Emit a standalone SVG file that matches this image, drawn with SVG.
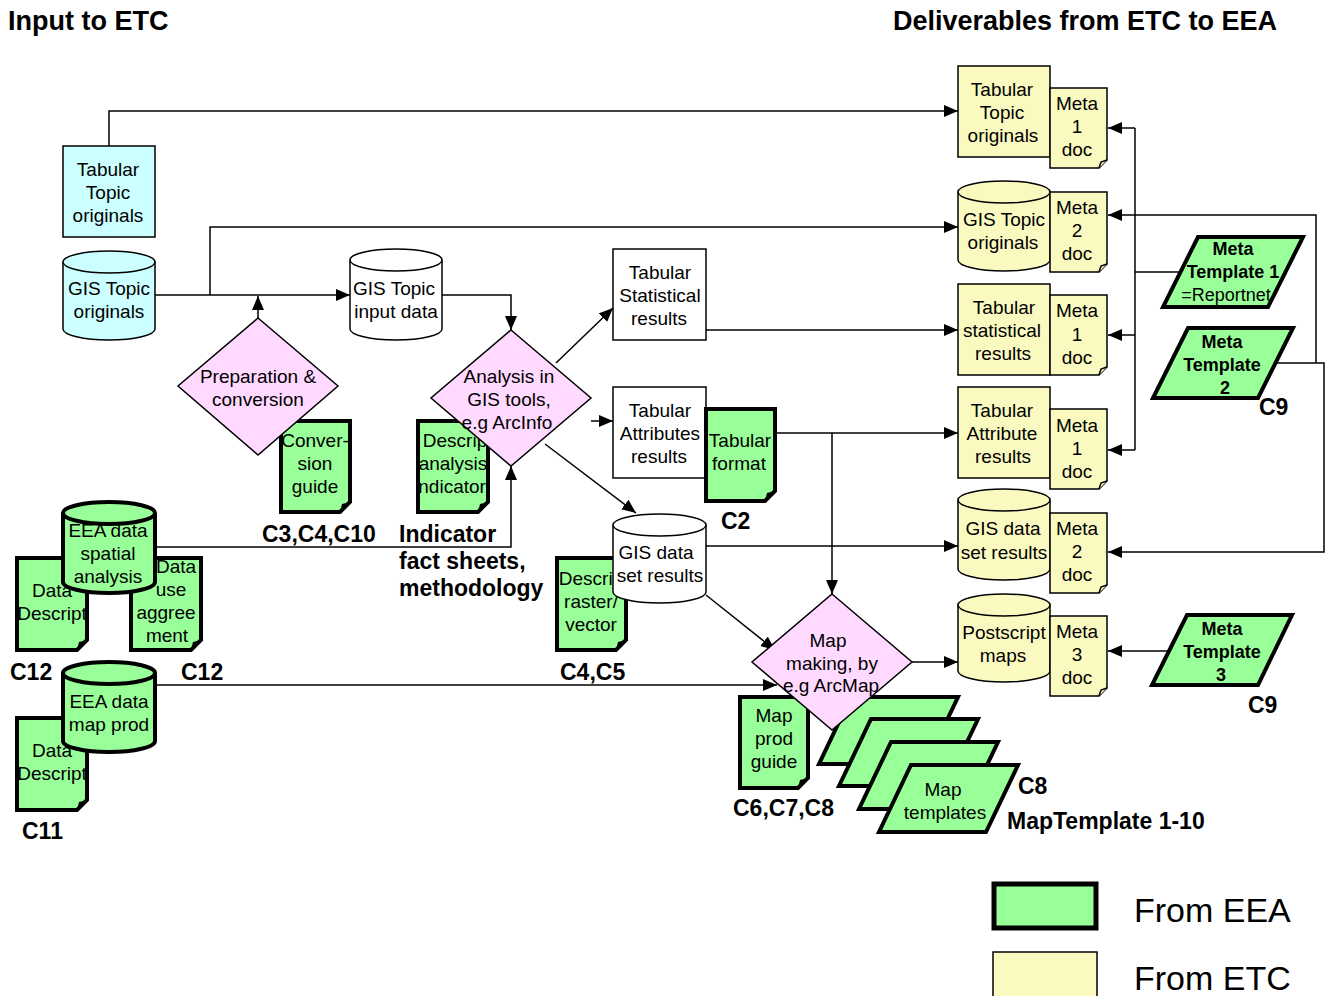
<svg xmlns="http://www.w3.org/2000/svg" width="1329" height="996" viewBox="0 0 1329 996">
<style>
  text { font-family: "Liberation Sans", Arial, sans-serif; font-size: 19px; fill: #000; }
  .c { text-anchor: middle; }
  .b { font-weight: bold; font-size: 23px; }
  .title { font-weight: bold; font-size: 27px; }
  .leg { font-size: 34px; }
  .thin { stroke: #000; stroke-width: 1.5; }
  .thick { stroke: #000; stroke-width: 4; stroke-linejoin: miter; }
  .cyan { fill: #ccffff; }
  .white { fill: #ffffff; }
  .pink { fill: #ffd9ff; }
  .green { fill: #99ff99; }
  .yellow { fill: #fafac0; }
  .wire { fill: none; stroke: #000; stroke-width: 1.5; }
  .fold { fill: #000; stroke: none; }
  .mb { font-weight: bold; }
</style>
<defs>
  <marker id="arr" viewBox="0 0 14 12" refX="14" refY="6" markerWidth="14" markerHeight="12" markerUnits="userSpaceOnUse" orient="auto">
    <path d="M0,0 L14,6 L0,12 Z" fill="#000"/>
  </marker>
  <clipPath id="clipDA"><rect x="418" y="421" width="70" height="91"/></clipPath>
  <clipPath id="clipDR"><rect x="557" y="558" width="69" height="92"/></clipPath>
  <clipPath id="clipDD1"><rect x="17" y="558" width="70" height="92"/></clipPath>
  <clipPath id="clipDD2"><rect x="17" y="718" width="70" height="92"/></clipPath>
</defs>

<!-- headings -->
<text class="title" x="8" y="30">Input to ETC</text>
<text class="title" x="893" y="30">Deliverables from ETC to EEA</text>

<!-- connectors -->
<g id="connectors">
  <path class="wire" d="M109,146 V111 H958" marker-end="url(#arr)"/>
  <path class="wire" d="M155,295 H350" marker-end="url(#arr)"/>
  <path class="wire" d="M210,295 V227 H958" marker-end="url(#arr)"/>
  <path class="wire" d="M258,318 V296" marker-end="url(#arr)"/>
  <path class="wire" d="M442,295 H511 V330" marker-end="url(#arr)"/>
  <path class="wire" d="M155,547 H511 V466" marker-end="url(#arr)"/>
  <path class="wire" d="M556,363 L613,308" marker-end="url(#arr)"/>
  <path class="wire" d="M591,421 H613" marker-end="url(#arr)"/>
  <path class="wire" d="M545,444 L636,513" marker-end="url(#arr)"/>
  <path class="wire" d="M706,330 H958" marker-end="url(#arr)"/>
  <path class="wire" d="M775,433 H958" marker-end="url(#arr)"/>
  <path class="wire" d="M832,433 V594" marker-end="url(#arr)"/>
  <path class="wire" d="M706,546 H958" marker-end="url(#arr)"/>
  <path class="wire" d="M706,595 L775,650" marker-end="url(#arr)"/>
  <path class="wire" d="M155,685 H777" marker-end="url(#arr)"/>
  <path class="wire" d="M912,662 H958" marker-end="url(#arr)"/>
  <!-- metadata template feeds -->
  <path class="wire" d="M1135,128 V450"/>
  <path class="wire" d="M1135,128 H1108" marker-end="url(#arr)"/>
  <path class="wire" d="M1135,335 H1108" marker-end="url(#arr)"/>
  <path class="wire" d="M1135,450 H1108" marker-end="url(#arr)"/>
  <path class="wire" d="M1180,272 H1135"/>
  <path class="wire" d="M1316,363 V215 H1108" marker-end="url(#arr)"/>
  <path class="wire" d="M1276,363 H1324 V552 H1108" marker-end="url(#arr)"/>
  <path class="wire" d="M1170,651 H1108" marker-end="url(#arr)"/>
</g>

<!-- inputs -->
<g id="tabular-topic-in">
  <rect class="cyan thin" x="63" y="146" width="92" height="91"/>
  <text class="c" x="108" y="176">Tabular</text>
  <text class="c" x="108" y="199">Topic</text>
  <text class="c" x="108" y="222">originals</text>
</g>
<g id="gis-topic-in">
  <path class="cyan thin" d="M63,262 V329 A46,11 0 0 0 155,329 V262"/>
  <ellipse class="cyan thin" cx="109" cy="262" rx="46" ry="11"/>
  <text class="c" x="109" y="295">GIS Topic</text>
  <text class="c" x="109" y="318">originals</text>
</g>

<g id="data-descript-1">
  <path class="green thick" d="M17,558 H87 V640 L77,650 H17 Z"/>
  <path class="fold" d="M77,650 L79,642 L87,640 Z"/>
  <g clip-path="url(#clipDD1)">
    <text class="c" x="52" y="597">Data</text>
    <text class="c" x="52" y="620">Descript</text>
  </g>
</g>
<g id="data-use">
  <path class="green thick" d="M131,558 H201 V640 L191,650 H131 Z"/>
  <path class="fold" d="M191,650 L193,642 L201,640 Z"/>
  <text class="c" x="176" y="573">Data</text>
  <text class="c" x="171" y="596">use</text>
  <text class="c" x="166" y="619">aggree</text>
  <text class="c" x="167" y="642">ment</text>
</g>
<g id="eea-spatial">
  <path class="green thick" d="M63,513 V582 A46,11 0 0 0 155,582 V513"/>
  <ellipse class="green thick" cx="109" cy="513" rx="46" ry="11"/>
  <text class="c" x="108" y="537">EEA data</text>
  <text class="c" x="108" y="560">spatial</text>
  <text class="c" x="108" y="583">analysis</text>
</g>
<text class="b" x="10" y="680">C12</text>
<text class="b" x="181" y="680">C12</text>

<g id="data-descript-2">
  <path class="green thick" d="M17,718 H87 V800 L77,810 H17 Z"/>
  <path class="fold" d="M77,810 L79,802 L87,800 Z"/>
  <g clip-path="url(#clipDD2)">
    <text class="c" x="52" y="757">Data</text>
    <text class="c" x="52" y="780">Descript</text>
  </g>
</g>
<g id="eea-mapprod">
  <path class="green thick" d="M63,673 V741 A46,11 0 0 0 155,741 V673"/>
  <ellipse class="green thick" cx="109" cy="673" rx="46" ry="11"/>
  <text class="c" x="109" y="708">EEA data</text>
  <text class="c" x="109" y="731">map prod</text>
</g>
<text class="b" x="22" y="839">C11</text>

<!-- preparation -->
<g id="conversion-guide">
  <path class="green thick" d="M281,421 H350 V502 L340,512 H281 Z"/>
  <path class="fold" d="M340,512 L342,504 L350,502 Z"/>
  <text class="c" x="315" y="447">Conver-</text>
  <text class="c" x="315" y="470">sion</text>
  <text class="c" x="315" y="493">guide</text>
</g>
<g id="prep">
  <path class="pink thin" d="M258,318 L338,386 L258,455 L178,386 Z"/>
  <text class="c" x="258" y="383">Preparation &amp;</text>
  <text class="c" x="258" y="406">conversion</text>
</g>
<text class="b" x="262" y="542">C3,C4,C10</text>

<g id="gis-topic-input">
  <path class="white thin" d="M350,260 V329 A46,11 0 0 0 442,329 V260"/>
  <ellipse class="white thin" cx="396" cy="260" rx="46" ry="11"/>
  <text class="c" x="394" y="295">GIS Topic</text>
  <text class="c" x="396" y="318">input data</text>
</g>

<!-- analysis -->
<g id="descrip-analysis">
  <path class="green thick" d="M418,421 H488 V502 L478,512 H418 Z"/>
  <path class="fold" d="M478,512 L480,504 L488,502 Z"/>
  <g clip-path="url(#clipDA)">
    <text class="c" x="455" y="447">Descrip</text>
    <text class="c" x="453" y="470">analysis</text>
    <text class="c" x="450" y="493">indicator</text>
  </g>
</g>
<g id="analysis">
  <path class="pink thin" d="M511,330 L591,398 L511,466 L431,398 Z"/>
  <text class="c" x="509" y="383">Analysis in</text>
  <text class="c" x="509" y="406">GIS tools,</text>
  <text class="c" x="507" y="429">e.g ArcInfo</text>
</g>
<text class="b" x="399" y="542">Indicator</text>
<text class="b" x="399" y="569">fact sheets,</text>
<text class="b" x="399" y="596">methodology</text>

<g id="tab-stat">
  <rect class="white thin" x="613" y="249" width="93" height="91"/>
  <text class="c" x="660" y="279">Tabular</text>
  <text class="c" x="660" y="302">Statistical</text>
  <text class="c" x="659" y="325">results</text>
</g>
<g id="tab-attr">
  <rect class="white thin" x="613" y="387" width="93" height="91"/>
  <text class="c" x="660" y="417">Tabular</text>
  <text class="c" x="660" y="440">Attributes</text>
  <text class="c" x="659" y="463">results</text>
</g>
<g id="tabular-format">
  <path class="green thick" d="M706,409 H775 V491 L765,501 H706 Z"/>
  <path class="fold" d="M765,501 L767,493 L775,491 Z"/>
  <text class="c" x="740" y="447">Tabular</text>
  <text class="c" x="739" y="470">format</text>
</g>
<text class="b" x="721" y="529">C2</text>

<g id="descrip-raster">
  <path class="green thick" d="M557,558 H626 V640 L616,650 H557 Z"/>
  <path class="fold" d="M616,650 L618,642 L626,640 Z"/>
  <g clip-path="url(#clipDR)">
    <text class="c" x="591" y="585">Descrip</text>
    <text class="c" x="591" y="608">raster/</text>
    <text class="c" x="591" y="631">vector</text>
  </g>
</g>
<g id="gis-dataset">
  <path class="white thin" d="M613,525 V592 A46.5,11 0 0 0 706,592 V525"/>
  <ellipse class="white thin" cx="659.5" cy="525" rx="46.5" ry="11"/>
  <text class="c" x="656" y="559">GIS data</text>
  <text class="c" x="660" y="582">set results</text>
</g>
<text class="b" x="560" y="680">C4,C5</text>

<!-- map production -->
<g id="map-templates">
  <path class="green thick" d="M851,697 H958 L926,764 H819 Z"/>
  <path class="green thick" d="M871,719 H978 L946,786 H839 Z"/>
  <path class="green thick" d="M891,742 H998 L966,809 H859 Z"/>
  <path class="green thick" d="M911,765 H1018 L986,832 H879 Z"/>
  <text class="c" x="943" y="796">Map</text>
  <text class="c" x="945" y="819">templates</text>
</g>
<g id="map-prod-guide">
  <path class="green thick" d="M740,697 H808 V778 L798,788 H740 Z"/>
  <path class="fold" d="M798,788 L800,780 L808,778 Z"/>
  <text class="c" x="774" y="722">Map</text>
  <text class="c" x="774" y="745">prod</text>
  <text class="c" x="774" y="768">guide</text>
</g>
<g id="map-making">
  <path class="pink thin" d="M832,594 L912,662 L832,730 L752,662 Z"/>
  <text class="c" x="828" y="647">Map</text>
  <text class="c" x="832" y="670">making, by</text>
  <text class="c" x="831" y="692">e.g ArcMap</text>
</g>
<text class="b" x="733" y="816">C6,C7,C8</text>
<text class="b" x="1018" y="794">C8</text>
<text class="b" x="1007" y="829">MapTemplate 1-10</text>

<!-- deliverables -->
<g id="out-tab-topic">
  <rect class="yellow thin" x="958" y="66" width="92" height="91"/>
  <text class="c" x="1002" y="96">Tabular</text>
  <text class="c" x="1002" y="119">Topic</text>
  <text class="c" x="1003" y="142">originals</text>
</g>
<g id="meta-a">
  <path class="yellow thin" d="M1050,88 H1107 V160 L1099,168 H1050 Z"/>
  <path class="yellow thin" d="M1099,168 L1101,162 L1107,160"/>
  <text class="c" x="1077" y="110">Meta</text>
  <text class="c" x="1077" y="133">1</text>
  <text class="c" x="1077" y="156">doc</text>
</g>

<g id="out-gis-topic">
  <path class="yellow thin" d="M958,192 V260 A46,11 0 0 0 1050,260 V192"/>
  <ellipse class="yellow thin" cx="1004" cy="192" rx="46" ry="11"/>
  <text class="c" x="1004" y="226">GIS Topic</text>
  <text class="c" x="1003" y="249">originals</text>
</g>
<g id="meta-b">
  <path class="yellow thin" d="M1050,192 H1107 V264 L1099,272 H1050 Z"/>
  <path class="yellow thin" d="M1099,272 L1101,266 L1107,264"/>
  <text class="c" x="1077" y="214">Meta</text>
  <text class="c" x="1077" y="237">2</text>
  <text class="c" x="1077" y="260">doc</text>
</g>

<g id="out-tab-stat">
  <rect class="yellow thin" x="958" y="284" width="92" height="91"/>
  <text class="c" x="1004" y="314">Tabular</text>
  <text class="c" x="1002" y="337">statistical</text>
  <text class="c" x="1003" y="360">results</text>
</g>
<g id="meta-c">
  <path class="yellow thin" d="M1050,295 H1107 V367 L1099,375 H1050 Z"/>
  <path class="yellow thin" d="M1099,375 L1101,369 L1107,367"/>
  <text class="c" x="1077" y="317">Meta</text>
  <text class="c" x="1077" y="341">1</text>
  <text class="c" x="1077" y="364">doc</text>
</g>

<g id="out-tab-attr">
  <rect class="yellow thin" x="958" y="387" width="92" height="91"/>
  <text class="c" x="1002" y="417">Tabular</text>
  <text class="c" x="1002" y="440">Attribute</text>
  <text class="c" x="1003" y="463">results</text>
</g>
<g id="meta-d">
  <path class="yellow thin" d="M1050,409 H1107 V481 L1099,489 H1050 Z"/>
  <path class="yellow thin" d="M1099,489 L1101,483 L1107,481"/>
  <text class="c" x="1077" y="432">Meta</text>
  <text class="c" x="1077" y="455">1</text>
  <text class="c" x="1077" y="478">doc</text>
</g>

<g id="out-gis-dataset">
  <path class="yellow thin" d="M958,500 V569 A46,11 0 0 0 1050,569 V500"/>
  <ellipse class="yellow thin" cx="1004" cy="500" rx="46" ry="11"/>
  <text class="c" x="1003" y="535">GIS data</text>
  <text class="c" x="1004" y="559">set results</text>
</g>
<g id="meta-e">
  <path class="yellow thin" d="M1050,513 H1107 V585 L1099,593 H1050 Z"/>
  <path class="yellow thin" d="M1099,593 L1101,587 L1107,585"/>
  <text class="c" x="1077" y="535">Meta</text>
  <text class="c" x="1077" y="558">2</text>
  <text class="c" x="1077" y="581">doc</text>
</g>

<g id="out-postscript">
  <path class="yellow thin" d="M958,605 V671 A46,11 0 0 0 1050,671 V605"/>
  <ellipse class="yellow thin" cx="1004" cy="605" rx="46" ry="11"/>
  <text class="c" x="1004" y="639">Postscript</text>
  <text class="c" x="1003" y="662">maps</text>
</g>
<g id="meta-f">
  <path class="yellow thin" d="M1050,616 H1107 V688 L1099,696 H1050 Z"/>
  <path class="yellow thin" d="M1099,696 L1101,690 L1107,688"/>
  <text class="c" x="1077" y="638">Meta</text>
  <text class="c" x="1077" y="661">3</text>
  <text class="c" x="1077" y="684">doc</text>
</g>

<!-- metadata templates -->
<g id="meta-template-1">
  <path class="green thick" d="M1198,237 H1303 L1268,307 H1163 Z"/>
  <text class="c mb" x="1233" y="255" style="font-size:18px">Meta</text>
  <text class="c mb" x="1233" y="278" style="font-size:18px">Template 1</text>
  <text class="c" x="1226" y="301" style="font-size:18px">=Reportnet</text>
</g>
<g id="meta-template-2">
  <path class="green thick" d="M1188,328 H1293 L1258,398 H1153 Z"/>
  <text class="c mb" x="1222" y="348" style="font-size:18px">Meta</text>
  <text class="c mb" x="1222" y="371" style="font-size:18px">Template</text>
  <text class="c mb" x="1225" y="394" style="font-size:18px">2</text>
</g>
<text class="b" x="1259" y="415">C9</text>
<g id="meta-template-3">
  <path class="green thick" d="M1187,615 H1292 L1258,685 H1152 Z"/>
  <text class="c mb" x="1222" y="635" style="font-size:18px">Meta</text>
  <text class="c mb" x="1222" y="658" style="font-size:18px">Template</text>
  <text class="c mb" x="1221" y="681" style="font-size:18px">3</text>
</g>
<text class="b" x="1248" y="713">C9</text>

<!-- legend -->
<g id="legend">
  <rect class="green" x="994" y="884" width="102" height="44" stroke="#000" stroke-width="5"/>
  <text class="leg" x="1134" y="922">From EEA</text>
  <rect class="yellow thin" x="993" y="952" width="104" height="50"/>
  <text class="leg" x="1134" y="990">From ETC</text>
</g>
</svg>
